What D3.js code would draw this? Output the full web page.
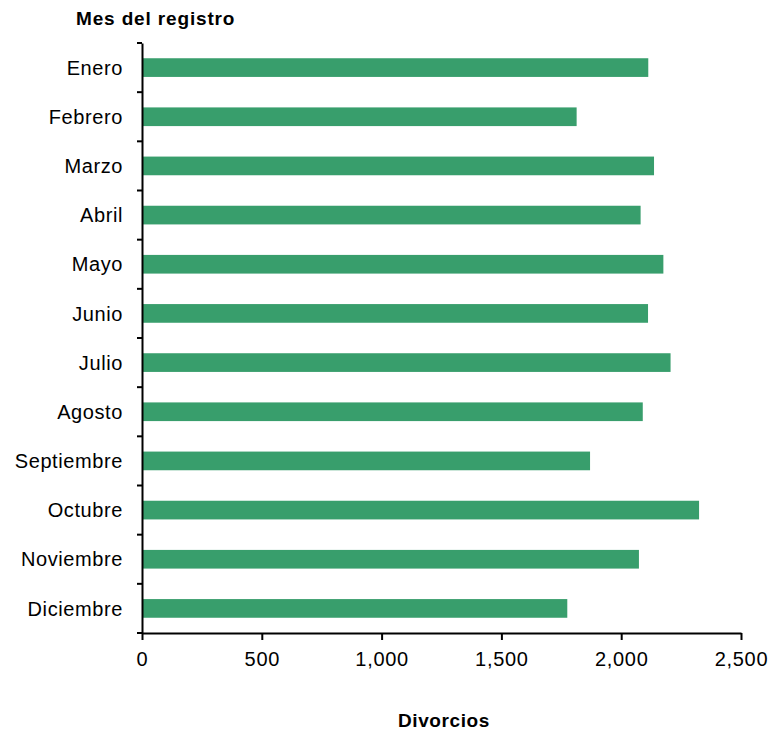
<!DOCTYPE html>
<meta charset="utf-8">
<script src="https://d3js.org/d3.v7.min.js"></script>
<style>
  body { margin: 0; background: #fff; }
  text { font-family: "Liberation Sans", Arial, sans-serif; }
</style>
<div id="chart"></div>
<script>
// months (top to bottom) and number of divorces
var meses = ["Enero", "Febrero", "Marzo", "Abril", "Mayo", "Junio", "Julio",
  "Agosto", "Septiembre", "Octubre", "Noviembre", "Diciembre"]
var divorcios = [2113, 1814, 2137, 2081, 2176, 2112, 2206, 2090, 1870, 2325, 2074, 1775]
var xTicks = [0, 500, 1000, 1500, 2000, 2500]

var width = 774, height = 732
var margin = {top: 43, right: 33, bottom: 99, left: 142}

var svg = d3.select("#chart").append("svg")
  .attr("width", width).attr("height", height)

var x = d3.scaleLinear().domain([0, 2500]).range([margin.left, width - margin.right])
var y = d3.scaleBand().domain(meses).range([margin.top, height - margin.bottom]).paddingInner(0.62).paddingOuter(0.31)

// bars
svg.append("g")
  .selectAll("rect")
  .data(meses)
  .enter()
  .append("rect")
    .attr("x", x(0))
    .attr("y", function(d){ return y(d) })
    .attr("width", function(d, i){ return x(divorcios[i]) - x(0) })
    .attr("height", y.bandwidth())
    .attr("fill", "#389e6c")

// x axis
var gx = svg.append("g")
  .attr("transform", "translate(0," + (height - margin.bottom) + ")")
  .call(d3.axisBottom(x).tickValues(xTicks).tickFormat(d3.format(",")).tickSize(7).tickSizeOuter(0))
gx.select(".domain").attr("stroke", "#000").attr("stroke-width", 2)
gx.selectAll(".tick line").attr("stroke", "#000").attr("stroke-width", 2)
gx.selectAll(".tick text")
  .attr("y", 19)
  .style("font-size", "20px")
  .style("letter-spacing", "0.7px")
  .attr("fill", "#000")

// y axis: labels centered in bands, ticks on band boundaries
var gy = svg.append("g")
  .attr("transform", "translate(" + margin.left + ",0)")
  .call(d3.axisLeft(y).tickSize(0).tickPadding(19))
gy.select(".domain").attr("stroke", "#000").attr("stroke-width", 2)
gy.selectAll(".tick text")
  .attr("dy", "0.36em")
  .style("font-size", "20px")
  .style("letter-spacing", "0.6px")
  .attr("fill", "#000")

var step = (height - margin.bottom - margin.top) / meses.length
gy.append("g")
  .selectAll("line")
  .data(d3.range(meses.length + 1))
  .enter()
  .append("line")
    .attr("x1", -5).attr("x2", 0)
    .attr("y1", function(i){ return margin.top + i * step })
    .attr("y2", function(i){ return margin.top + i * step })
    .attr("stroke", "#000")
    .attr("stroke-width", 2)

// axis titles
svg.append("text")
  .attr("x", 76).attr("y", 25)
  .text("Mes del registro")
  .style("font-size", "19px")
  .style("font-weight", "bold")
  .style("letter-spacing", "0.85px")

svg.append("text")
  .attr("x", 444).attr("y", 727)
  .attr("text-anchor", "middle")
  .text("Divorcios")
  .style("font-size", "19px")
  .style("font-weight", "bold")
  .style("letter-spacing", "0.6px")
</script>
